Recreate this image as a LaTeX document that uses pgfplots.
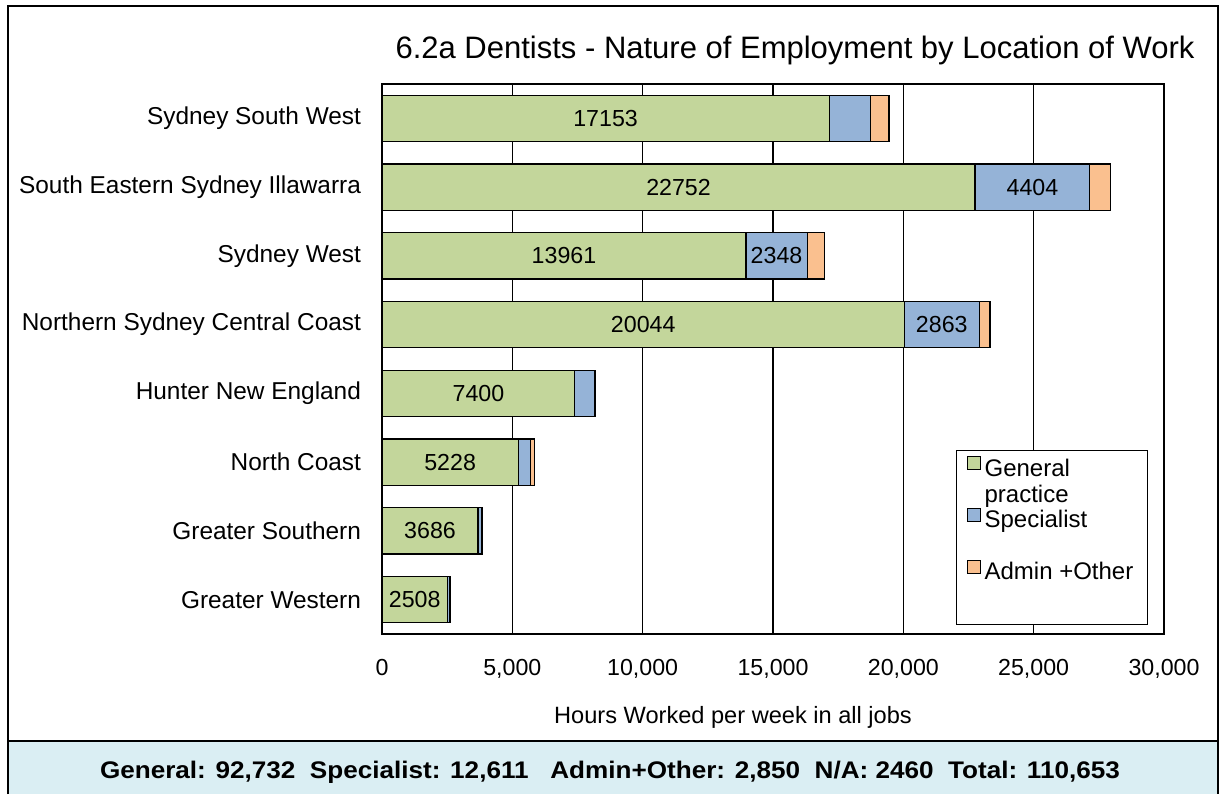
\documentclass[border=0pt]{standalone}
\usepackage{fontspec}
\setmainfont{Liberation Sans}
\usepackage{graphicx}
\usepackage{pgfplots}
\usepackage{pgfplotstable}
\pgfplotsset{compat=1.18}
\definecolor{genGreen}{RGB}{195,214,155}
\definecolor{specBlue}{RGB}{149,179,215}
\definecolor{adminOrange}{RGB}{250,192,143}
\definecolor{panelBlue}{RGB}{218,238,243}

% hours per week by area, bottom row = Greater Western
\pgfplotstableread{
idx gen spec admin specl
0 2508 76 30 {}
1 3686 120 50 {}
2 5228 460 150 {}
3 7400 740 60 {}
4 20044 2863 420 2863
5 13961 2348 660 2348
6 22752 4404 780 4404
7 17153 1600 700 {}
}\dentists

\begin{document}
\begin{tikzpicture}
\path[use as bounding box] (0,0) rectangle (609.5pt,397pt);
\fill[panelBlue] (4pt,0) rectangle (609pt,26.5pt);
\draw[line width=0.9pt] (4pt,0) -- (4pt,394pt) -- (609pt,394pt) -- (609pt,0);
\draw[line width=0.9pt] (4pt,26.5pt) -- (609pt,26.5pt);
\node[font=\fontsize{15.5}{18}\selectfont] at (397.5pt,372pt)
  {6.2a Dentists - Nature of Employment by Location of Work};
\node[font=\bfseries\fontsize{12}{14}\selectfont] at (305pt,11pt)
  {\resizebox{510pt}{\height}{General: 92,732\ \ Specialist: 12,611\ \ \ Admin+Other: 2,850\ \ N/A: 2460\ \ Total: 110,653}};

\begin{axis}[
    at={(191pt,80pt)}, anchor=south west,
    scale only axis,
    width=391pt, height=275pt,
    xbar stacked,
    bar width=0.67,
    xmin=0, xmax=30000,
    ymin=-0.5, ymax=7.5,
    xtick={0,5000,...,30000},
    scaled x ticks=false,
    ytick={0,...,7},
    yticklabels={Greater Western, Greater Southern, North Coast, Hunter New England,
      Northern Sydney Central Coast, Sydney West, South Eastern Sydney Illawarra, Sydney South West},
    major tick length=0pt,
    /pgf/number format/assume math mode=true,
    /pgf/number format/1000 sep={,},
    tick label style={font=\fontsize{11.6}{13}\selectfont},
    yticklabel style={font=\fontsize{12.2}{14}\selectfont, xshift=-7pt},
    xticklabel style={yshift=-9pt},
    xlabel={Hours Worked per week in all jobs},
    xlabel style={font=\fontsize{11.8}{13}\selectfont, xshift=-20pt, yshift=-7pt},
    xmajorgrids,
    grid style={black, line width=0.7pt},
    axis line style={line width=1pt},
    every axis plot/.append style={draw=black, line width=0.6pt},
    nodes near coords style={font=\fontsize{11.6}{13}\selectfont, anchor=center, text=black},
    legend style={at={(0.734,0.335)}, anchor=north west, draw=black, line width=0.6pt,
      font=\fontsize{12}{13}\selectfont, cells={anchor=west, align=left},
      row sep=11.5pt, inner xsep=5pt, inner ysep=2pt},
    legend image code/.code={\draw[#1, draw=black, line width=0.5pt] (0pt,-0.5pt) rectangle (6.5pt,6pt);},
]
\addplot[fill=genGreen, point meta=explicit symbolic, nodes near coords]
    table[x=gen, y=idx, meta=gen] {\dentists};
\addplot[fill=specBlue, point meta=explicit symbolic, nodes near coords]
    table[x=spec, y=idx, meta=specl] {\dentists};
\addplot[fill=adminOrange] table[x=admin, y=idx] {\dentists};
\legend{\begin{tabular}[t]{@{}l@{}}General\\practice\end{tabular}, Specialist, Admin +Other}
\addlegendimage{empty legend}
\addlegendentry{\raisebox{0pt}[-14.5pt][0pt]{}}
\end{axis}
\end{tikzpicture}
\end{document}
